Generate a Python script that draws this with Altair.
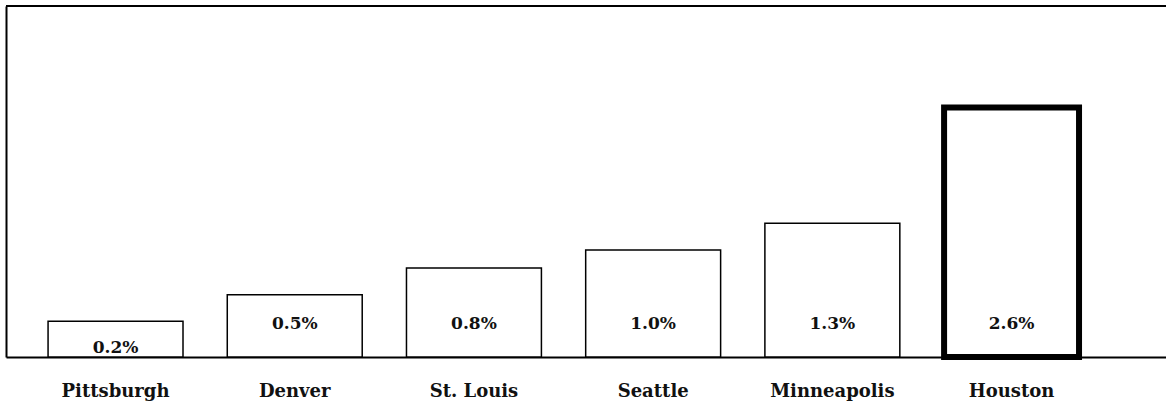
import altair as alt
import pandas as pd

cities = ["Pittsburgh", "Denver", "St. Louis", "Seattle", "Minneapolis", "Houston"]
rates = [0.2, 0.5, 0.8, 1.0, 1.3, 2.6]
labels = ["0.2%", "0.5%", "0.8%", "1.0%", "1.3%", "2.6%"]
highlight = [False, False, False, False, False, True]

Y_MIN, Y_MAX = -0.2, 3.74
FONT = "DejaVu Serif"

df = pd.DataFrame({"city": cities, "rate": rates, "label": labels, "hl": highlight})

x = alt.X(
    "city:N",
    sort=cities,
    title=None,
    scale=alt.Scale(paddingInner=0.247, paddingOuter=0.36, align=0.326),
    axis=alt.Axis(
        labelAngle=0, ticks=False, domain=True, domainColor="black", domainWidth=2,
        labelPadding=25, labelFont=FONT, labelFontSize=18, labelFontWeight="bold",
        labelColor="#111111", grid=False,
    ),
)
yscale = alt.Scale(domain=[Y_MIN, Y_MAX], zero=False, nice=False)

bars = alt.Chart(df).mark_bar(fill="white", color="black").encode(
    x=x,
    y=alt.Y(
        "rate:Q", scale=yscale, title=None,
        axis=alt.Axis(labels=False, ticks=False, grid=False, domain=True,
                      domainColor="black", domainWidth=2),
    ),
    y2=alt.datum(Y_MIN),
    stroke=alt.value("black"),
    strokeWidth=alt.condition("datum.hl", alt.value(6), alt.value(1.5)),
)

text = alt.Chart(df).transform_calculate(
    ly="min(datum.rate - 0.3, 0.17)"
).mark_text(
    font=FONT, fontSize=17, fontWeight="bold", color="#111111", baseline="middle"
).encode(
    x=alt.X("city:N", sort=cities),
    y=alt.Y("ly:Q", scale=yscale),
    text="label:N",
)

top = alt.Chart(df).mark_rule(color="black", strokeWidth=2).encode(
    y=alt.datum(Y_MAX)
)

chart = alt.layer(bars, text, top).properties(
    width=1160, height=351,
    autosize=alt.AutoSizeParams(type="none"),
    padding={"left": 6, "top": 6, "right": 0, "bottom": 52},
).configure_view(stroke=None)

chart.save("out.html", embed_options={"renderer": "svg", "actions": False})
